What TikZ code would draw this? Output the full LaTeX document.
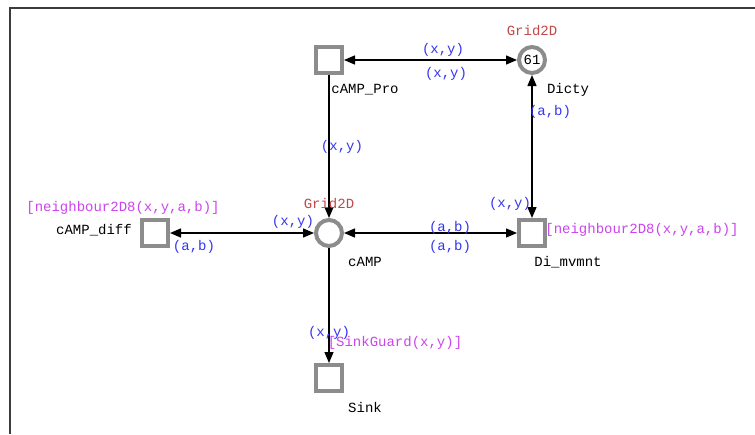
\documentclass[tikz,border=0pt]{standalone}
\usepackage{fontspec}
\setmonofont{Liberation Mono}
\usetikzlibrary{arrows.meta}
\definecolor{netgray}{HTML}{8C8C8C}
\definecolor{framegray}{HTML}{3C3C3C}
\definecolor{inscblue}{HTML}{3535F2}
\definecolor{guardpink}{HTML}{CC44EE}
\definecolor{colred}{HTML}{C04848}
\begin{document}
\begin{tikzpicture}[x=1pt,y=-1pt,
  font=\ttfamily\fontsize{14}{16}\selectfont,
  place/.style={circle, draw=netgray, line width=4pt, fill=white,
    minimum size=26pt, inner sep=0pt},
  trans/.style={rectangle, draw=netgray, line width=4pt, fill=white,
    minimum size=26pt, inner sep=0pt},
  tip/.tip={Triangle[length=11pt,width=9pt]},
  arc/.style={line width=1.4pt, draw=black, -tip},
  biarc/.style={line width=1.4pt, draw=black, tip-tip},
  inscr/.style={text=inscblue, inner sep=0pt},
  guard/.style={text=guardpink, inner sep=0pt},
  colset/.style={text=colred, inner sep=0pt},
  lbl/.style={text=black, inner sep=0pt}]

% canvas and frame
\fill[white] (0,0) rectangle (755,434);
\useasboundingbox (0,0) rectangle (755,434);
\draw[framegray, line width=1.5pt] (10,434) -- (10,8) -- (755,8);

% places and transitions
\node[trans] (pro)  at (329,60)  {};
\node[place] (dicty) at (532,60) {61};
\node[place] (camp) at (329,233) {};
\node[trans] (diff) at (155,233) {};
\node[trans] (mv)   at (532,233) {};
\node[trans] (sink) at (329,378) {};

% arcs
\draw[biarc] (pro) -- (dicty);
\draw[arc]   (pro) -- (camp);
\draw[biarc] (diff) -- (camp);
\draw[biarc] (camp) -- (mv);
\draw[biarc] (mv) -- (dicty);
\draw[arc]   (camp) -- (sink);

% node names
\node[lbl] (lpro)  at (365,90)  {cAMP\_Pro};
\node[lbl] (ldicty) at (568,90) {Dicty};
\node[lbl] (ldiff) at (94,230)  {cAMP\_diff};
\node[lbl] (lcamp) at (365,262) {cAMP};
\node[lbl] (lmv)   at (568,262) {Di\_mvmnt};
\node[lbl] (lsink) at (365,407) {Sink};

% colour sets
\node[colset] (csdicty) at (532,31)  {Grid2D};
\node[colset] (cscamp)  at (329,204) {Grid2D};

% guards
\node[guard] (gdiff) at (123,208) {[neighbour2D8(x,y,a,b)]};
\node[guard] (gmv)   at (642,230) {[neighbour2D8(x,y,a,b)]};
\node[guard] (gsink) at (395,343) {[SinkGuard(x,y)]};

% arc inscriptions
\node[inscr] (i1) at (443,50)  {(x,y)};
\node[inscr] (i2) at (446,74)  {(x,y)};
\node[inscr] (i3) at (550,112) {(a,b)};
\node[inscr] (i4) at (342,147) {(x,y)};
\node[inscr] (i5) at (293,222) {(x,y)};
\node[inscr] (i6) at (194,247) {(a,b)};
\node[inscr] (i7) at (510,204) {(x,y)};
\node[inscr] (i8) at (450,228) {(a,b)};
\node[inscr] (i9) at (450,247) {(a,b)};
\node[inscr] (i10) at (329,333) {(x,y)};
\end{tikzpicture}
\end{document}
